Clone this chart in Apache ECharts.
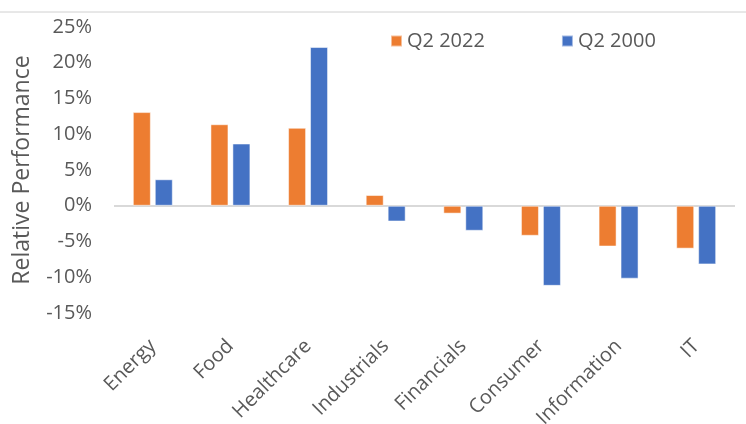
<!DOCTYPE html>
<html>
<head>
<meta charset="utf-8">
<script src="https://cdn.jsdelivr.net/npm/echarts@6/dist/echarts.min.js"></script>
<style>html,body{margin:0;padding:0;background:#fff}#c{width:746px;height:424px}</style>
</head>
<body>
<div id="c"></div>
<script>
const categories = ["Energy","Food","Healthcare","Industrials","Financials","Consumer","Information","IT"];
const q2_2022 = [13.1, 11.4, 10.9, 1.5, -1.1, -4.2, -5.7, -6.0];
const q2_2000 = [3.7, 8.7, 22.2, -2.2, -3.5, -11.2, -10.2, -8.2];
const seriesNames = ["Q2 2022","Q2 2000"];
const yTicks = {min: -15, max: 25, interval: 5};

const FONT = "Open Sans";
const GRAY = "#595959";
const chart = echarts.init(document.getElementById('c'), null, {renderer: 'canvas'});
chart.setOption({
  animation: false,
  backgroundColor: '#fff',
  graphic: [{type: 'line', shape: {x1: 0, y1: 12, x2: 746, y2: 12}, style: {stroke: '#D0D0D0', lineWidth: 1}, silent: true}],
  legend: {
    data: seriesNames,
    left: 385, top: 26,
    itemWidth: 11, itemHeight: 11, itemGap: 76, icon: 'rect',
    textStyle: {fontFamily: FONT, fontSize: 20, color: GRAY}
  },
  grid: {left: 114, right: 11, top: 27, bottom: 111, containLabel: false, outerBoundsMode: 'none'},
  xAxis: {
    type: 'category', data: categories,
    axisLine: {show: false}, axisTick: {show: false},
    axisLabel: {rotate: 45, margin: 30, interval: 0, fontFamily: FONT, fontSize: 20, color: GRAY}
  },
  yAxis: {
    type: 'value', min: yTicks.min, max: yTicks.max, interval: yTicks.interval,
    name: 'Relative Performance', nameLocation: 'middle', nameRotate: 90, nameGap: 80,
    nameTextStyle: {fontFamily: FONT, fontSize: 23, color: GRAY},
    axisLine: {show: false}, axisTick: {show: false}, splitLine: {show: false},
    axisLabel: {formatter: v => v + '%', margin: 22, fontFamily: FONT, fontSize: 20, color: GRAY}
  },
  series: [
    {name: seriesNames[0], type: 'bar', data: q2_2022, barWidth: 18, barGap: '22%',
     itemStyle: {color: '#ED7D31', borderColor: 'rgba(255,255,255,0.5)', borderWidth: 1},
     markLine: {silent: true, symbol: 'none', label: {show: false}, data: [{yAxis: 0}],
                lineStyle: {color: '#D9D9D9', width: 2, type: 'solid'}, z: 1}},
    {name: seriesNames[1], type: 'bar', data: q2_2000, barWidth: 18,
     itemStyle: {color: '#4472C4', borderColor: 'rgba(255,255,255,0.5)', borderWidth: 1}}
  ]
});
</script>
</body>
</html>
